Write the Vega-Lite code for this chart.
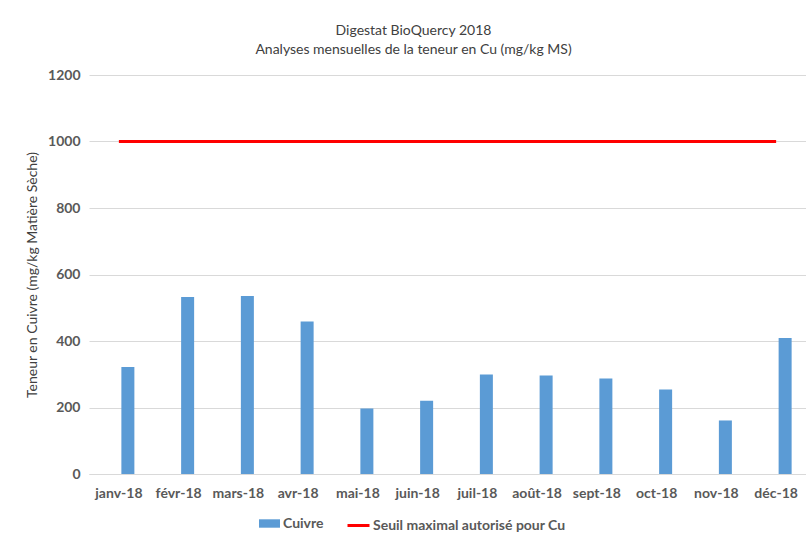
{
  "$schema": "https://vega.github.io/schema/vega-lite/v6.json",
  "width": 717,
  "height": 399,
  "autosize": {"type": "none"},
  "padding": {"left": 89, "top": 75, "right": 0, "bottom": 62},
  "background": "white",
  "config": {"view": {"stroke": null}, "font": "Lato"},
  "title": {
    "text": ["Digestat BioQuercy 2018", "Analyses mensuelles de la teneur en Cu (mg/kg MS)"],
    "font": "Lato",
    "fontSize": 14,
    "fontWeight": "normal",
    "color": "#404040",
    "anchor": "middle",
    "dx": -34,
    "offset": 11,
    "lineHeight": 19
  },
  "data": {
    "values": [
      {"mois": "janv-18", "cuivre": 322, "seuil": 1000},
      {"mois": "févr-18", "cuivre": 532, "seuil": 1000},
      {"mois": "mars-18", "cuivre": 535, "seuil": 1000},
      {"mois": "avr-18", "cuivre": 459, "seuil": 1000},
      {"mois": "mai-18", "cuivre": 197, "seuil": 1000},
      {"mois": "juin-18", "cuivre": 220, "seuil": 1000},
      {"mois": "juil-18", "cuivre": 299, "seuil": 1000},
      {"mois": "août-18", "cuivre": 296, "seuil": 1000},
      {"mois": "sept-18", "cuivre": 287, "seuil": 1000},
      {"mois": "oct-18", "cuivre": 254, "seuil": 1000},
      {"mois": "nov-18", "cuivre": 161, "seuil": 1000},
      {"mois": "déc-18", "cuivre": 409, "seuil": 1000}
    ]
  },
  "encoding": {
    "x": {
      "field": "mois",
      "type": "nominal",
      "sort": null,
      "scale": {"paddingInner": 0, "paddingOuter": 0},
      "axis": {
        "title": null,
        "labelAngle": 0,
        "domainColor": "#d9d9d9",
        "domainWidth": 1,
        "ticks": false,
        "labelFont": "Lato",
        "labelFontSize": 14,
        "labelFontWeight": "bold",
        "labelColor": "#595959",
        "labelPadding": 12
      }
    }
  },
  "layer": [
    {
      "mark": {"type": "bar", "width": 13, "xOffset": 9},
      "encoding": {
        "y": {
          "field": "cuivre",
          "type": "quantitative",
          "scale": {"domain": [0, 1200]},
          "axis": {
            "values": [0, 200, 400, 600, 800, 1000, 1200],
            "format": "d",
            "domain": false,
            "ticks": false,
            "gridColor": "#d9d9d9",
            "labelPadding": 9,
            "labelFont": "Lato",
            "labelFontSize": 14,
            "labelFontWeight": "bold",
            "labelColor": "#595959",
            "title": "Teneur en Cuivre (mg/kg Matière Sèche)",
            "titleFont": "Lato",
            "titleFontSize": 14,
            "titleFontWeight": "normal",
            "titleColor": "#404040",
            "titlePadding": 8
          }
        },
        "fill": {
          "datum": "Cuivre",
          "type": "nominal",
          "scale": {"range": ["#5B9BD5"]},
          "legend": {
            "title": null,
            "orient": "none",
            "legendX": 170,
            "legendY": 438,
            "padding": 0,
            "symbolType": "M-1,-0.4H1V0.4H-1Z",
            "symbolSize": 441,
            "symbolStrokeWidth": 0,
            "labelFont": "Lato",
            "labelFontSize": 14,
            "labelFontWeight": "bold",
            "labelColor": "#595959",
            "labelOffset": 3,
            "labelLimit": 400
          }
        }
      }
    },
    {
      "mark": {"type": "line", "strokeWidth": 3},
      "encoding": {
        "y": {"field": "seuil", "type": "quantitative"},
        "stroke": {
          "datum": "Seuil maximal autorisé pour Cu",
          "type": "nominal",
          "scale": {"range": ["#FF0000"]},
          "legend": {
            "title": null,
            "orient": "none",
            "legendX": 257,
            "legendY": 438,
            "padding": 0,
            "symbolType": "stroke",
            "symbolSize": 484,
            "symbolStrokeWidth": 3,
            "labelFont": "Lato",
            "labelFontSize": 14,
            "labelFontWeight": "bold",
            "labelColor": "#595959",
            "labelOffset": 2,
            "labelLimit": 400
          }
        }
      }
    }
  ],
  "resolve": {"scale": {"fill": "independent", "stroke": "independent"}}
}
